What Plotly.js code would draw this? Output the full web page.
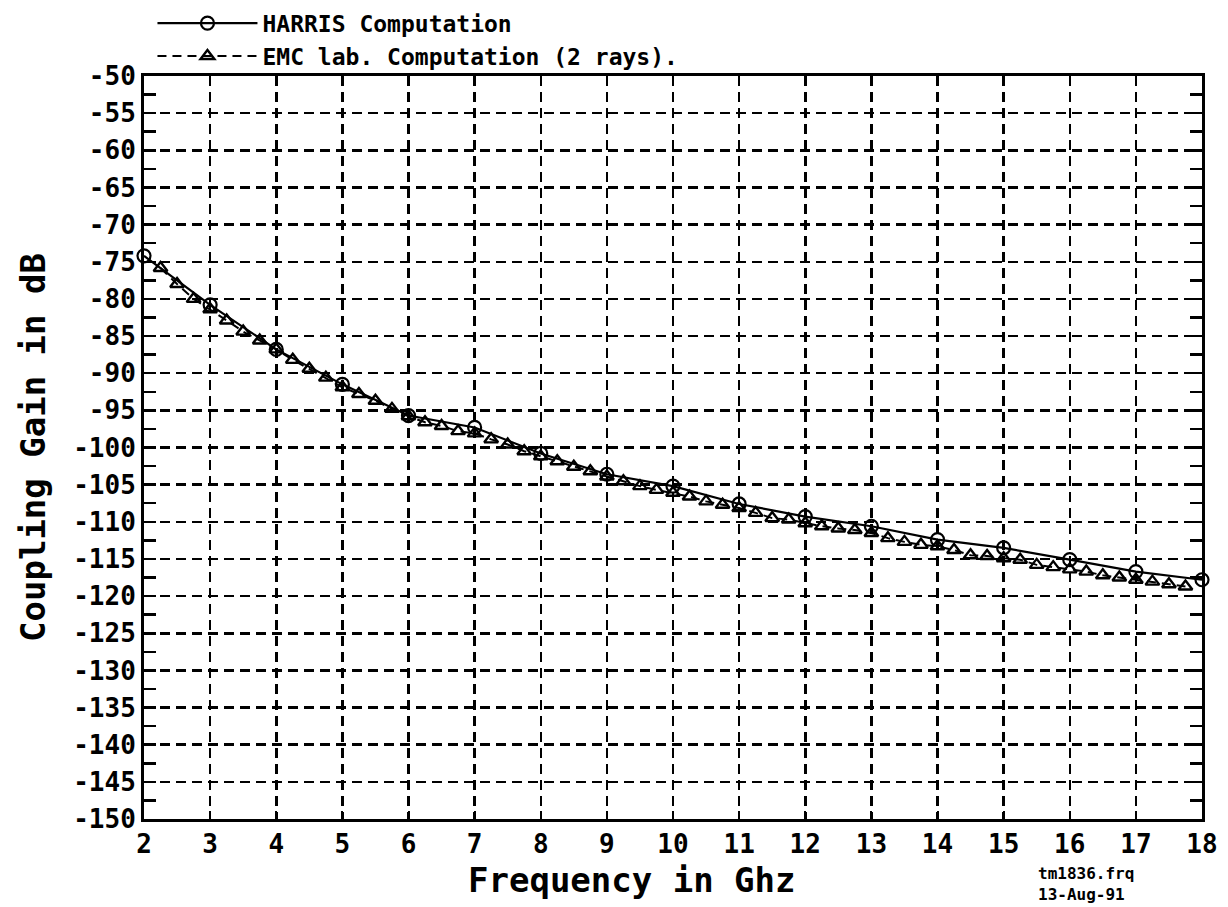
<!DOCTYPE html>
<html>
<head>
<meta charset="utf-8">
<script src="https://cdn.plot.ly/plotly-3.0.1.min.js"></script>
<style>
  html, body { margin: 0; padding: 0; background: #fff; }
  #chart { width: 1228px; height: 907px; }
</style>
</head>
<body>
<div id="chart"></div>
<script>
// HARRIS Computation (circles, solid line)
const harrisFreq = [2, 3, 4, 5, 6, 7, 8, 9, 10, 11, 12, 13, 14, 15, 16, 17, 18];
const harrisGain = [-74.2, -80.8, -86.8, -91.5, -95.7, -97.3, -100.8, -103.6, -105.2,
                    -107.6, -109.3, -110.6, -112.4, -113.5, -115.1, -116.7, -117.8];

// EMC lab. Computation (2 rays) (triangles, dashed line)
const emcFreq = [2.25, 2.5, 2.75, 3.0, 3.25, 3.5, 3.75, 4.0, 4.25, 4.5, 4.75, 5.0,
                 5.25, 5.5, 5.75, 6.0, 6.25, 6.5, 6.75, 7.0, 7.25, 7.5, 7.75, 8.0,
                 8.25, 8.5, 8.75, 9.0, 9.25, 9.5, 9.75, 10.0, 10.25, 10.5, 10.75, 11.0,
                 11.25, 11.5, 11.75, 12.0, 12.25, 12.5, 12.75, 13.0, 13.25, 13.5, 13.75, 14.0,
                 14.25, 14.5, 14.75, 15.0, 15.25, 15.5, 15.75, 16.0, 16.25, 16.5, 16.75, 17.0,
                 17.25, 17.5, 17.75];
const emcGain = [-75.85, -78.0, -80.0, -81.4, -82.9, -84.4, -85.6, -86.8, -88.2, -89.4, -90.6, -91.9,
                 -92.8, -93.7, -94.8, -95.8, -96.6, -97.1, -97.8, -98.1, -98.9, -99.6, -100.5, -101.2,
                 -101.85, -102.6, -103.2, -103.9, -104.55, -105.2, -105.7, -106.1, -106.6, -107.25, -107.7, -108.15,
                 -108.8, -109.5, -109.7, -110.2, -110.6, -110.9, -111.1, -111.5, -112.2, -112.7, -113.1, -113.3,
                 -113.8, -114.5, -114.6, -114.9, -115.1, -115.8, -116.1, -116.4, -116.7, -117.2, -117.5, -117.8,
                 -118.05, -118.4, -118.7];

const xTicks = [2, 3, 4, 5, 6, 7, 8, 9, 10, 11, 12, 13, 14, 15, 16, 17, 18];
const yTicks = [-50, -55, -60, -65, -70, -75, -80, -85, -90, -95, -100, -105, -110, -115,
                -120, -125, -130, -135, -140, -145, -150];

const seriesNames = ['HARRIS Computation', 'EMC lab. Computation (2 rays).'];
const xTitle = 'Frequency in Ghz';
const yTitle = 'Coupling Gain in dB';
const stampLines = ['tm1836.frq', '13-Aug-91'];

const FONT = 'DejaVu Sans Mono, Liberation Mono, monospace';

const traces = [
  {
    x: harrisFreq, y: harrisGain, name: seriesNames[0],
    mode: 'lines+markers', type: 'scatter', cliponaxis: false,
    line: {color: '#000', width: 2.2},
    marker: {symbol: 'circle-open', size: 13, color: '#000', line: {width: 2.2, color: '#000'}}
  },
  {
    x: emcFreq, y: emcGain, name: seriesNames[1],
    mode: 'lines+markers', type: 'scatter', cliponaxis: false,
    line: {color: '#000', width: 2, dash: '9px,6px'},
    marker: {symbol: 'triangle-up-open', size: 12, color: '#000', line: {width: 2.4, color: '#000'}}
  }
];

const layout = {
  width: 1228, height: 907,
  paper_bgcolor: '#fff', plot_bgcolor: '#fff',
  margin: {l: 144, r: 26, t: 76, b: 88, pad: 0, autoexpand: false},
  showlegend: true,
  legend: {
    x: 0.008, y: 1.1, xanchor: 'left', yanchor: 'top',
    font: {family: FONT, size: 23, color: '#000', weight: 'bold'},
    itemwidth: 100, tracegroupgap: 0, bgcolor: 'rgba(0,0,0,0)',
    traceorder: 'normal'
  },
  xaxis: {
    range: [2, 18], tickvals: xTicks, ticktext: xTicks.map(String),
    showgrid: true, gridcolor: '#000', gridwidth: 2.5, griddash: '10px,6px',
    showline: true, linecolor: '#000', linewidth: 3, mirror: true,
    ticks: 'inside', ticklen: 8, tickwidth: 2, tickcolor: '#000',
    zeroline: false, automargin: false,
    tickfont: {family: FONT, size: 26, color: '#000', weight: 'bold'}
  },
  yaxis: {
    range: [-150, -50], tickvals: yTicks, ticktext: yTicks.map(String),
    showgrid: true, gridcolor: '#000', gridwidth: 2.5, griddash: '10px,6px',
    showline: true, linecolor: '#000', linewidth: 3, mirror: 'ticks',
    ticks: 'inside', ticklen: 12, tickwidth: 2.5, tickcolor: '#000',
    minor: {dtick: 2.5, ticks: 'inside', ticklen: 12, tickwidth: 2.5, tickcolor: '#000', showgrid: false},
    zeroline: false, automargin: false,
    tickfont: {family: FONT, size: 26, color: '#000', weight: 'bold'},
    title: {text: yTitle, font: {family: FONT, size: 34, color: '#000', weight: 'bold'}, standoff: 18}
  },
  annotations: [
    {
      xref: 'paper', yref: 'paper', x: 0.461, y: -0.052, xanchor: 'center', yanchor: 'top',
      text: xTitle, showarrow: false,
      font: {family: FONT, size: 34, color: '#000', weight: 'bold'}
    },
    {
      xref: 'paper', yref: 'paper', x: 0.843, y: -0.058, xanchor: 'left', yanchor: 'top',
      text: stampLines.join('<br>'), showarrow: false, align: 'left',
      font: {family: FONT, size: 16, color: '#000', weight: 'bold'}
    }
  ]
};

Plotly.newPlot('chart', traces, layout, {displayModeBar: false, staticPlot: true});
</script>
</body>
</html>
